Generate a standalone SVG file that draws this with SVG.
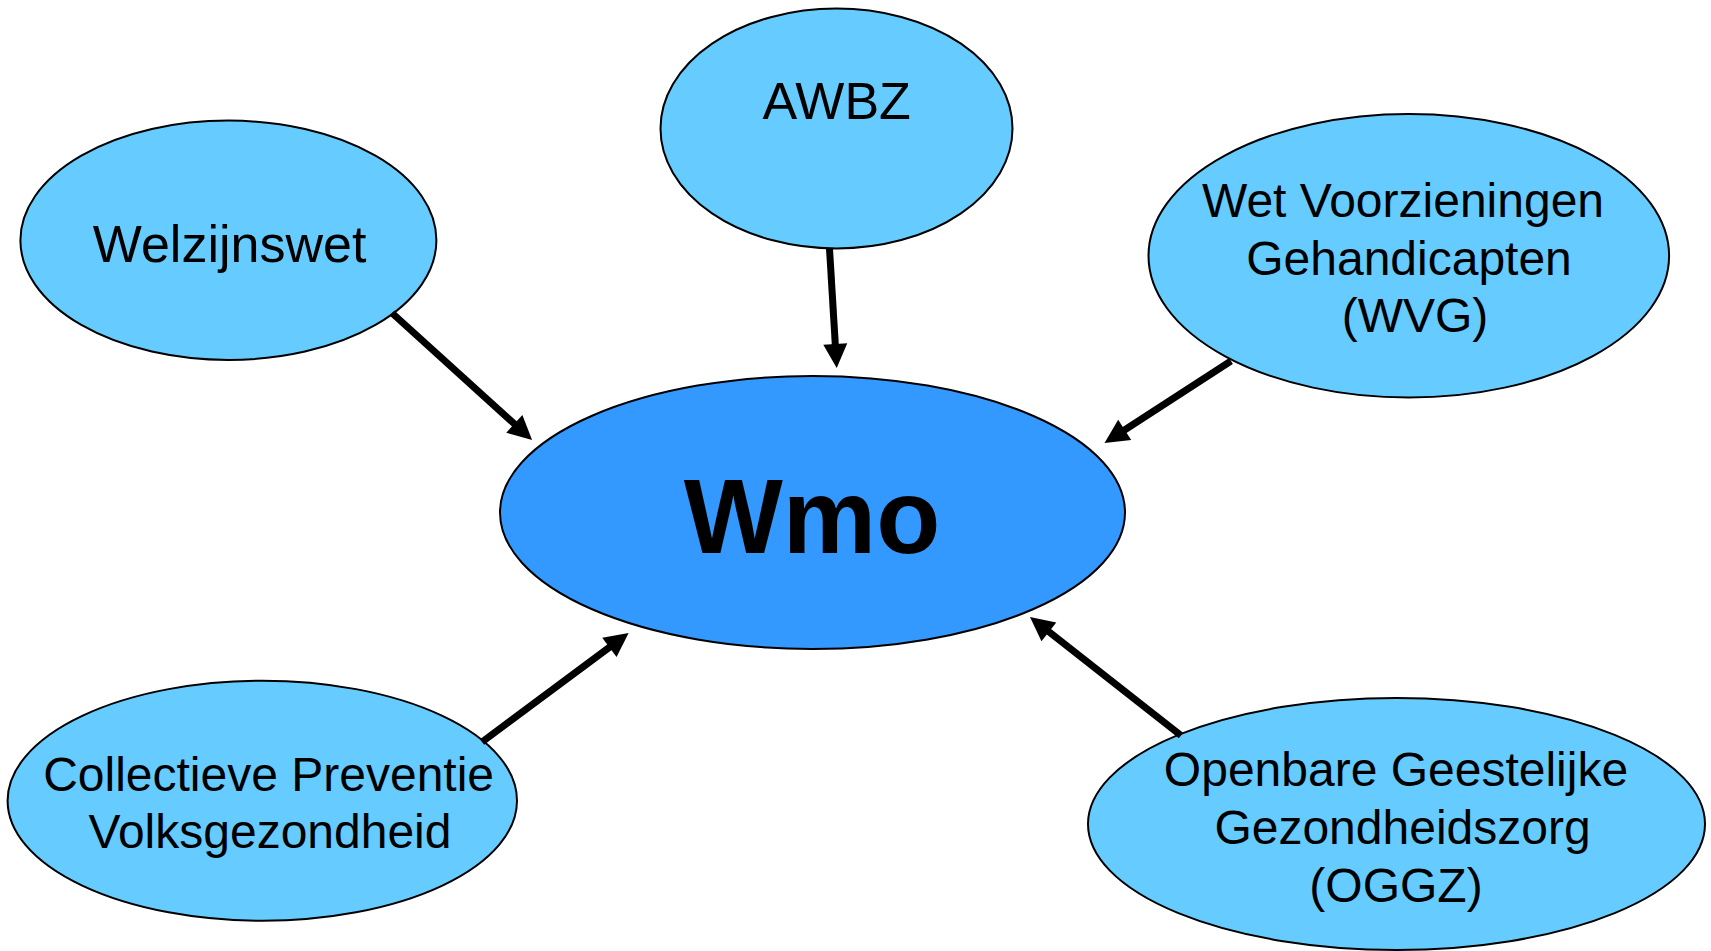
<svg xmlns="http://www.w3.org/2000/svg" width="1711" height="951" viewBox="0 0 1711 951">
<style>
.node{fill:#66CCFF;stroke:#000;stroke-width:2}
.main{fill:#3399FF;stroke:#000;stroke-width:2}
.t{font-family:"Liberation Sans",Arial,sans-serif;fill:#000;text-anchor:middle}
.t52{font-size:52px}
.t48{font-size:48px}
.tb{font-size:105px;font-weight:bold}
.conn line{stroke:#000;stroke-width:7;marker-end:url(#ah)}
</style>
<defs>
<marker id="ah" markerUnits="userSpaceOnUse" viewBox="-2 -13 26 26" markerWidth="26" markerHeight="26" refX="0" refY="0" orient="auto" overflow="visible">
<path d="M-2,-12 L22,0 L-2,12 z" fill="#000"/>
</marker>
</defs>
<rect width="1711" height="951" fill="#fff"/>
<g id="wmo">
<ellipse class="main" cx="812.5" cy="512.5" rx="312.5" ry="136.5"/>
<text class="t tb" x="812" y="553">Wmo</text>
</g>
<g id="awbz">
<ellipse class="node" cx="836.5" cy="128.5" rx="176" ry="120"/>
<text class="t t52" x="836.7" y="119.3">AWBZ</text>
</g>
<g id="welzijnswet">
<ellipse class="node" cx="228.4" cy="240.3" rx="208" ry="119.7"/>
<text class="t t52" x="229.6" y="261.7">Welzijnswet</text>
</g>
<g id="wvg">
<ellipse class="node" cx="1408.8" cy="255.8" rx="260.3" ry="141.8"/>
<text class="t t48" x="1403" y="217">Wet Voorzieningen</text>
<text class="t t48" x="1409" y="274.5">Gehandicapten</text>
<text class="t t48" x="1415" y="332">(WVG)</text>
</g>
<g id="collectieve">
<ellipse class="node" cx="262.3" cy="800.7" rx="254.7" ry="120"/>
<text class="t t48" x="268.6" y="790.7">Collectieve Preventie</text>
<text class="t t48" x="270" y="847.7">Volksgezondheid</text>
</g>
<g id="oggz">
<ellipse class="node" cx="1396.5" cy="824" rx="308.5" ry="126"/>
<text class="t t48" x="1396" y="786">Openbare Geestelijke</text>
<text class="t t48" x="1402.5" y="843.5">Gezondheidszorg</text>
<text class="t t48" x="1396" y="901.5">(OGGZ)</text>
</g>
<g id="connectors" class="conn">
<line x1="392" y1="313" x2="515.8" y2="425.2"/>
<line x1="829.5" y1="248.5" x2="835.4" y2="346"/>
<line x1="1231" y1="361" x2="1123" y2="431"/>
<line x1="482" y1="742" x2="611" y2="646.1"/>
<line x1="1181" y1="735.5" x2="1047.3" y2="630.6"/>
</g>
</svg>
